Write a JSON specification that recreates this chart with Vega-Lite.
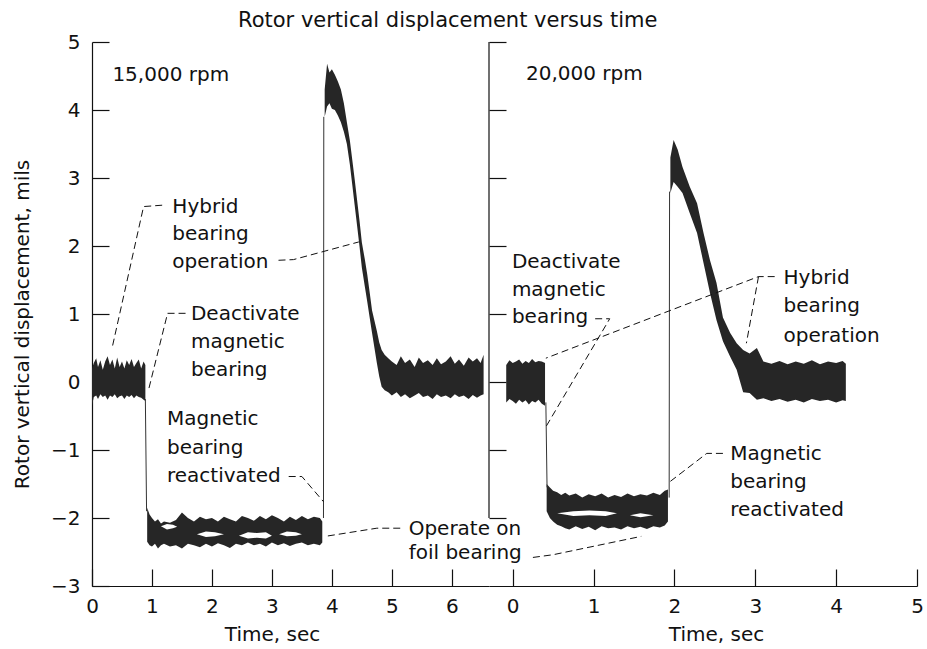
{
"$schema": "https://vega.github.io/schema/vega-lite/v6.json",
"padding": {"left": 12, "top": 10, "right": 0, "bottom": 0},
"bounds": "flush",
"title": {"text": "Rotor vertical displacement versus time", "fontSize": 21, "fontWeight": "normal", "color": "#111", "anchor": "start", "frame": "group", "dx": 146, "offset": 1},
"config": {"font": "DejaVu Sans", "view": {"stroke": null}, "axis": {"grid": false, "labelFlush": false, "domainColor": "#111", "tickColor": "#111", "labelColor": "#111", "titleColor": "#111", "labelFontSize": 20, "titleFontSize": 20, "titleFontWeight": "normal", "tickSize": -17, "domainWidth": 1.2, "tickWidth": 1.2}},
"spacing": 0,
"resolve": {"scale": {"x": "independent", "y": "independent"}},
"datasets": {
"L_band": [
{"seg":"a","t":0.0,"lo":-0.35,"y":0.2},{"seg":"a","t":0.03,"lo":-0.22,"y":0.28},{"seg":"a","t":0.07,"lo":-0.2,"y":0.35},{"seg":"a","t":0.1,"lo":-0.25,"y":0.22},{"seg":"a","t":0.14,"lo":-0.18,"y":0.32},{"seg":"a","t":0.18,"lo":-0.22,"y":0.18},{"seg":"a","t":0.22,"lo":-0.2,"y":0.3},{"seg":"a","t":0.26,"lo":-0.26,"y":0.38},{"seg":"a","t":0.3,"lo":-0.2,"y":0.25},{"seg":"a","t":0.34,"lo":-0.22,"y":0.33},{"seg":"a","t":0.38,"lo":-0.18,"y":0.2},{"seg":"a","t":0.42,"lo":-0.24,"y":0.36},{"seg":"a","t":0.46,"lo":-0.21,"y":0.22},{"seg":"a","t":0.5,"lo":-0.2,"y":0.3},{"seg":"a","t":0.54,"lo":-0.25,"y":0.2},{"seg":"a","t":0.58,"lo":-0.2,"y":0.32},{"seg":"a","t":0.62,"lo":-0.22,"y":0.25},{"seg":"a","t":0.66,"lo":-0.19,"y":0.34},{"seg":"a","t":0.7,"lo":-0.24,"y":0.22},{"seg":"a","t":0.74,"lo":-0.2,"y":0.28},{"seg":"a","t":0.78,"lo":-0.22,"y":0.33},{"seg":"a","t":0.82,"lo":-0.23,"y":0.2},{"seg":"a","t":0.86,"lo":-0.26,"y":0.3},{"seg":"a","t":0.89,"lo":-0.28,"y":0.25},
{"seg":"b","t":0.92,"lo":-2.35,"y":-1.85},{"seg":"b","t":0.96,"lo":-2.4,"y":-1.95},{"seg":"b","t":1.0,"lo":-2.42,"y":-2.0},{"seg":"b","t":1.05,"lo":-2.38,"y":-2.05},{"seg":"b","t":1.1,"lo":-2.45,"y":-2.02},{"seg":"b","t":1.15,"lo":-2.4,"y":-2.08},{"seg":"b","t":1.2,"lo":-2.38,"y":-2.05},{"seg":"b","t":1.3,"lo":-2.42,"y":-2.07},{"seg":"b","t":1.4,"lo":-2.4,"y":-2.03},{"seg":"b","t":1.5,"lo":-2.45,"y":-1.92},{"seg":"b","t":1.6,"lo":-2.38,"y":-2.0},{"seg":"b","t":1.7,"lo":-2.4,"y":-2.05},{"seg":"b","t":1.8,"lo":-2.43,"y":-1.98},{"seg":"b","t":1.9,"lo":-2.38,"y":-2.02},{"seg":"b","t":2.0,"lo":-2.42,"y":-2.0},{"seg":"b","t":2.1,"lo":-2.37,"y":-2.05},{"seg":"b","t":2.2,"lo":-2.4,"y":-1.98},{"seg":"b","t":2.3,"lo":-2.44,"y":-2.02},{"seg":"b","t":2.4,"lo":-2.38,"y":-2.05},{"seg":"b","t":2.5,"lo":-2.4,"y":-1.97},{"seg":"b","t":2.6,"lo":-2.36,"y":-2.0},{"seg":"b","t":2.7,"lo":-2.4,"y":-2.04},{"seg":"b","t":2.8,"lo":-2.38,"y":-1.97},{"seg":"b","t":2.9,"lo":-2.42,"y":-2.02},{"seg":"b","t":3.0,"lo":-2.36,"y":-1.96},{"seg":"b","t":3.1,"lo":-2.4,"y":-2.0},{"seg":"b","t":3.2,"lo":-2.37,"y":-2.05},{"seg":"b","t":3.3,"lo":-2.41,"y":-1.98},{"seg":"b","t":3.4,"lo":-2.38,"y":-2.03},{"seg":"b","t":3.5,"lo":-2.36,"y":-1.97},{"seg":"b","t":3.6,"lo":-2.4,"y":-2.02},{"seg":"b","t":3.7,"lo":-2.38,"y":-1.98},{"seg":"b","t":3.8,"lo":-2.4,"y":-2.0},{"seg":"b","t":3.84,"lo":-2.36,"y":-2.05},
{"seg":"c","t":3.88,"lo":3.9,"y":4.3},{"seg":"c","t":3.92,"lo":4.05,"y":4.68},{"seg":"c","t":3.96,"lo":4.1,"y":4.55},{"seg":"c","t":4.0,"lo":4.02,"y":4.6},{"seg":"c","t":4.05,"lo":4.0,"y":4.52},{"seg":"c","t":4.1,"lo":3.92,"y":4.42},{"seg":"c","t":4.15,"lo":3.82,"y":4.3},{"seg":"c","t":4.2,"lo":3.68,"y":4.1},{"seg":"c","t":4.25,"lo":3.5,"y":3.82},{"seg":"c","t":4.3,"lo":3.2,"y":3.55},{"seg":"c","t":4.34,"lo":2.9,"y":3.27},{"seg":"c","t":4.38,"lo":2.6,"y":2.98},{"seg":"c","t":4.42,"lo":2.3,"y":2.68},{"seg":"c","t":4.46,"lo":2.0,"y":2.38},{"seg":"c","t":4.5,"lo":1.68,"y":2.05},{"seg":"c","t":4.55,"lo":1.4,"y":1.8},{"seg":"c","t":4.59,"lo":1.18,"y":1.58},{"seg":"c","t":4.63,"lo":0.95,"y":1.32},{"seg":"c","t":4.67,"lo":0.72,"y":1.05},{"seg":"c","t":4.71,"lo":0.5,"y":0.9},{"seg":"c","t":4.75,"lo":0.28,"y":0.75},{"seg":"c","t":4.79,"lo":0.08,"y":0.58},{"seg":"c","t":4.83,"lo":-0.07,"y":0.47},{"seg":"c","t":4.88,"lo":-0.12,"y":0.4},{"seg":"c","t":4.94,"lo":-0.15,"y":0.35},{"seg":"c","t":5.0,"lo":-0.2,"y":0.3},{"seg":"c","t":5.08,"lo":-0.15,"y":0.25},{"seg":"c","t":5.15,"lo":-0.22,"y":0.38},{"seg":"c","t":5.22,"lo":-0.18,"y":0.28},{"seg":"c","t":5.3,"lo":-0.24,"y":0.33},{"seg":"c","t":5.38,"lo":-0.2,"y":0.22},{"seg":"c","t":5.45,"lo":-0.16,"y":0.36},{"seg":"c","t":5.52,"lo":-0.22,"y":0.28},{"seg":"c","t":5.6,"lo":-0.2,"y":0.32},{"seg":"c","t":5.68,"lo":-0.25,"y":0.25},{"seg":"c","t":5.75,"lo":-0.18,"y":0.35},{"seg":"c","t":5.82,"lo":-0.22,"y":0.26},{"seg":"c","t":5.9,"lo":-0.2,"y":0.3},{"seg":"c","t":5.98,"lo":-0.24,"y":0.38},{"seg":"c","t":6.05,"lo":-0.18,"y":0.27},{"seg":"c","t":6.12,"lo":-0.22,"y":0.33},{"seg":"c","t":6.2,"lo":-0.2,"y":0.24},{"seg":"c","t":6.28,"lo":-0.25,"y":0.36},{"seg":"c","t":6.35,"lo":-0.19,"y":0.3},{"seg":"c","t":6.42,"lo":-0.23,"y":0.35},{"seg":"c","t":6.48,"lo":-0.2,"y":0.28},{"seg":"c","t":6.53,"lo":-0.18,"y":0.4}
],
"L_hole": [
{"seg":"h1","t":1.15,"lo":-2.12,"y":-2.12},{"seg":"h1","t":1.25,"lo":-2.17,"y":-2.09},{"seg":"h1","t":1.35,"lo":-2.15,"y":-2.1},{"seg":"h1","t":1.42,"lo":-2.13,"y":-2.13},
{"seg":"h2","t":1.75,"lo":-2.24,"y":-2.24},{"seg":"h2","t":1.9,"lo":-2.28,"y":-2.2},{"seg":"h2","t":2.05,"lo":-2.27,"y":-2.21},{"seg":"h2","t":2.2,"lo":-2.24,"y":-2.24},
{"seg":"h3","t":2.45,"lo":-2.26,"y":-2.26},{"seg":"h3","t":2.6,"lo":-2.3,"y":-2.21},{"seg":"h3","t":2.75,"lo":-2.29,"y":-2.22},{"seg":"h3","t":2.9,"lo":-2.3,"y":-2.21},{"seg":"h3","t":3.0,"lo":-2.26,"y":-2.26},
{"seg":"h4","t":3.12,"lo":-2.24,"y":-2.24},{"seg":"h4","t":3.25,"lo":-2.27,"y":-2.2},{"seg":"h4","t":3.4,"lo":-2.26,"y":-2.21},{"seg":"h4","t":3.5,"lo":-2.24,"y":-2.24}
],
"L_jump": [
{"id":"j1","o":1,"t":0.89,"y":-0.25},{"id":"j1","o":2,"t":0.91,"y":-1.9},
{"id":"j2","o":1,"t":3.86,"y":-2.0},{"id":"j2","o":2,"t":3.865,"y":3.9}
],
"L_lead": [
{"id":"l1","o":1,"t":1.17,"y":2.6},{"id":"l1","o":2,"t":0.86,"y":2.58},{"id":"l1","o":3,"t":0.34,"y":0.52},
{"id":"l2","o":1,"t":3.11,"y":1.79},{"id":"l2","o":2,"t":3.36,"y":1.8},{"id":"l2","o":3,"t":4.45,"y":2.06},
{"id":"l3","o":1,"t":1.56,"y":1.01},{"id":"l3","o":2,"t":1.26,"y":1.01},{"id":"l3","o":3,"t":0.95,"y":-0.09},
{"id":"l4","o":1,"t":3.28,"y":-1.39},{"id":"l4","o":2,"t":3.5,"y":-1.39},{"id":"l4","o":3,"t":3.86,"y":-1.76},
{"id":"l5","o":1,"t":5.14,"y":-2.15},{"id":"l5","o":2,"t":4.75,"y":-2.15},{"id":"l5","o":3,"t":3.89,"y":-2.27}
],
"L_text": [
{"t":0.34,"y":4.52,"label":"15,000 rpm"},
{"t":1.34,"y":2.58,"label":"Hybrid"},{"t":1.34,"y":2.18,"label":"bearing"},{"t":1.34,"y":1.76,"label":"operation"},
{"t":1.65,"y":1.0,"label":"Deactivate"},{"t":1.65,"y":0.59,"label":"magnetic"},{"t":1.65,"y":0.17,"label":"bearing"},
{"t":1.25,"y":-0.54,"label":"Magnetic"},{"t":1.25,"y":-0.97,"label":"bearing"},{"t":1.25,"y":-1.38,"label":"reactivated"},
{"t":5.28,"y":-2.16,"label":"Operate on"},{"t":5.28,"y":-2.52,"label":"foil bearing"}
],
"R_rule": [{"t":-0.293,"y":-2,"ytop":5}],
"R_band": [
{"seg":"a","t":-0.08,"lo":-0.3,"y":0.25},{"seg":"a","t":-0.04,"lo":-0.25,"y":0.32},{"seg":"a","t":0.0,"lo":-0.28,"y":0.28},{"seg":"a","t":0.04,"lo":-0.32,"y":0.3},{"seg":"a","t":0.08,"lo":-0.26,"y":0.33},{"seg":"a","t":0.12,"lo":-0.3,"y":0.27},{"seg":"a","t":0.16,"lo":-0.27,"y":0.31},{"seg":"a","t":0.2,"lo":-0.33,"y":0.28},{"seg":"a","t":0.24,"lo":-0.28,"y":0.34},{"seg":"a","t":0.28,"lo":-0.3,"y":0.29},{"seg":"a","t":0.32,"lo":-0.26,"y":0.31},{"seg":"a","t":0.36,"lo":-0.32,"y":0.3},{"seg":"a","t":0.4,"lo":-0.35,"y":0.28},
{"seg":"b","t":0.42,"lo":-1.9,"y":-1.5},{"seg":"b","t":0.46,"lo":-2.0,"y":-1.55},{"seg":"b","t":0.5,"lo":-2.05,"y":-1.6},{"seg":"b","t":0.55,"lo":-2.1,"y":-1.62},{"seg":"b","t":0.6,"lo":-2.12,"y":-1.66},{"seg":"b","t":0.65,"lo":-2.15,"y":-1.63},{"seg":"b","t":0.7,"lo":-2.17,"y":-1.67},{"seg":"b","t":0.78,"lo":-2.12,"y":-1.64},{"seg":"b","t":0.86,"lo":-2.16,"y":-1.7},{"seg":"b","t":0.94,"lo":-2.13,"y":-1.65},{"seg":"b","t":1.02,"lo":-2.18,"y":-1.68},{"seg":"b","t":1.1,"lo":-2.12,"y":-1.64},{"seg":"b","t":1.18,"lo":-2.15,"y":-1.7},{"seg":"b","t":1.26,"lo":-2.14,"y":-1.66},{"seg":"b","t":1.34,"lo":-2.17,"y":-1.69},{"seg":"b","t":1.42,"lo":-2.12,"y":-1.64},{"seg":"b","t":1.5,"lo":-2.15,"y":-1.68},{"seg":"b","t":1.58,"lo":-2.13,"y":-1.65},{"seg":"b","t":1.66,"lo":-2.16,"y":-1.67},{"seg":"b","t":1.74,"lo":-2.12,"y":-1.63},{"seg":"b","t":1.82,"lo":-2.14,"y":-1.66},{"seg":"b","t":1.88,"lo":-2.11,"y":-1.6},{"seg":"b","t":1.92,"lo":-2.05,"y":-1.58},
{"seg":"c","t":1.95,"lo":2.78,"y":3.3},{"seg":"c","t":1.99,"lo":2.94,"y":3.56},{"seg":"c","t":2.04,"lo":2.87,"y":3.42},{"seg":"c","t":2.1,"lo":2.78,"y":3.16},{"seg":"c","t":2.19,"lo":2.48,"y":2.87},{"seg":"c","t":2.28,"lo":2.19,"y":2.63},{"seg":"c","t":2.36,"lo":1.75,"y":2.19},{"seg":"c","t":2.44,"lo":1.31,"y":1.79},{"seg":"c","t":2.52,"lo":0.91,"y":1.46},{"seg":"c","t":2.6,"lo":0.6,"y":0.95},{"seg":"c","t":2.69,"lo":0.37,"y":0.72},{"seg":"c","t":2.77,"lo":0.18,"y":0.57},{"seg":"c","t":2.85,"lo":-0.15,"y":0.47},{"seg":"c","t":2.93,"lo":-0.16,"y":0.42},{"seg":"c","t":3.02,"lo":-0.26,"y":0.5},{"seg":"c","t":3.1,"lo":-0.24,"y":0.3},{"seg":"c","t":3.2,"lo":-0.28,"y":0.27},{"seg":"c","t":3.3,"lo":-0.25,"y":0.31},{"seg":"c","t":3.4,"lo":-0.29,"y":0.26},{"seg":"c","t":3.5,"lo":-0.26,"y":0.3},{"seg":"c","t":3.6,"lo":-0.3,"y":0.27},{"seg":"c","t":3.7,"lo":-0.25,"y":0.32},{"seg":"c","t":3.8,"lo":-0.28,"y":0.26},{"seg":"c","t":3.9,"lo":-0.26,"y":0.3},{"seg":"c","t":4.0,"lo":-0.3,"y":0.28},{"seg":"c","t":4.08,"lo":-0.27,"y":0.31},{"seg":"c","t":4.12,"lo":-0.28,"y":0.27}
],
"R_hole": [
{"seg":"h1","t":0.55,"lo":-1.93,"y":-1.93},{"seg":"h1","t":0.75,"lo":-1.97,"y":-1.9},{"seg":"h1","t":0.95,"lo":-1.96,"y":-1.89},{"seg":"h1","t":1.15,"lo":-1.97,"y":-1.9},{"seg":"h1","t":1.29,"lo":-1.93,"y":-1.93},
{"seg":"h2","t":1.45,"lo":-1.96,"y":-1.96},{"seg":"h2","t":1.58,"lo":-1.99,"y":-1.93},{"seg":"h2","t":1.74,"lo":-1.96,"y":-1.96}
],
"R_jump": [
{"id":"j3","o":1,"t":0.41,"y":-0.3},{"id":"j3","o":2,"t":0.425,"y":-1.55},
{"id":"j4","o":1,"t":1.935,"y":-1.7},{"id":"j4","o":2,"t":1.94,"y":2.8}
],
"R_lead": [
{"id":"r1","o":1,"t":1.02,"y":0.93},{"id":"r1","o":2,"t":1.2,"y":0.93},{"id":"r1","o":3,"t":0.41,"y":-0.66},
{"id":"r2","o":1,"t":3.24,"y":1.55},{"id":"r2","o":2,"t":3.04,"y":1.55},{"id":"r2","o":3,"t":0.41,"y":0.35},
{"id":"r3","o":1,"t":3.04,"y":1.55},{"id":"r3","o":2,"t":2.89,"y":0.57},
{"id":"r4","o":1,"t":2.6,"y":-1.05},{"id":"r4","o":2,"t":2.4,"y":-1.05},{"id":"r4","o":3,"t":1.94,"y":-1.47},
{"id":"r5","o":1,"t":0.25,"y":-2.58},{"id":"r5","o":2,"t":0.5,"y":-2.54},{"id":"r5","o":3,"t":1.59,"y":-2.27}
],
"R_text": [
{"t":0.165,"y":4.53,"label":"20,000 rpm"},
{"t":-0.01,"y":1.76,"label":"Deactivate"},{"t":-0.01,"y":1.35,"label":"magnetic"},{"t":-0.01,"y":0.95,"label":"bearing"},
{"t":3.35,"y":1.53,"label":"Hybrid"},{"t":3.35,"y":1.12,"label":"bearing"},{"t":3.35,"y":0.68,"label":"operation"},
{"t":2.69,"y":-1.06,"label":"Magnetic"},{"t":2.69,"y":-1.47,"label":"bearing"},{"t":2.69,"y":-1.88,"label":"reactivated"}
]
},
"hconcat": [
{
"width": 397, "height": 544,
"encoding": {
"x": {"field": "t", "type": "quantitative", "scale": {"domain": [0, 6.62], "nice": false, "zero": false}, "axis": {"values": [0,1,2,3,4,5,6], "title": "Time, sec", "titleX": 180, "labelPadding": 27, "titlePadding": 8}},
"y": {"field": "y", "type": "quantitative", "scale": {"domain": [-3, 5], "nice": false, "zero": false}, "axis": {"values": [-3,-2,-1,0,1,2,3,4,5], "title": "Rotor vertical displacement, mils", "labelPadding": 29, "titlePadding": 18, "titleY": 282}}
},
"layer": [
{"data": {"name": "L_band"}, "mark": {"type": "area", "color": "#262626", "opacity": 1}, "encoding": {"y2": {"field": "lo"}, "detail": {"field": "seg"}}},
{"data": {"name": "L_hole"}, "mark": {"type": "area", "color": "#ffffff", "opacity": 1}, "encoding": {"y2": {"field": "lo"}, "detail": {"field": "seg"}}},
{"data": {"name": "L_jump"}, "mark": {"type": "line", "color": "#333", "strokeWidth": 1}, "encoding": {"detail": {"field": "id"}, "order": {"field": "o"}}},
{"data": {"name": "L_lead"}, "mark": {"type": "line", "color": "#111", "strokeWidth": 1, "strokeDash": [7, 4]}, "encoding": {"detail": {"field": "id"}, "order": {"field": "o"}}},
{"data": {"name": "L_text"}, "mark": {"type": "text", "align": "left", "baseline": "middle", "fontSize": 20, "color": "#111"}, "encoding": {"text": {"field": "label"}}}
]
},
{
"width": 428, "height": 544,
"encoding": {
"x": {"field": "t", "type": "quantitative", "scale": {"domain": [-0.293, 5], "nice": false, "zero": false}, "axis": {"values": [0,1,2,3,4,5], "title": "Time, sec", "titleX": 227, "labelPadding": 27, "titlePadding": 8}},
"y": {"field": "y", "type": "quantitative", "scale": {"domain": [-3, 5], "nice": false, "zero": false}, "axis": {"values": [-2,-1,0,1,2,3,4,5], "title": null, "labels": false, "domain": false}}
},
"layer": [
{"data": {"name": "R_rule"}, "mark": {"type": "rule", "color": "#111", "strokeWidth": 1.2}, "encoding": {"y2": {"field": "ytop"}}},
{"data": {"name": "R_band"}, "mark": {"type": "area", "color": "#262626", "opacity": 1}, "encoding": {"y2": {"field": "lo"}, "detail": {"field": "seg"}}},
{"data": {"name": "R_hole"}, "mark": {"type": "area", "color": "#ffffff", "opacity": 1}, "encoding": {"y2": {"field": "lo"}, "detail": {"field": "seg"}}},
{"data": {"name": "R_jump"}, "mark": {"type": "line", "color": "#333", "strokeWidth": 1}, "encoding": {"detail": {"field": "id"}, "order": {"field": "o"}}},
{"data": {"name": "R_lead"}, "mark": {"type": "line", "color": "#111", "strokeWidth": 1, "strokeDash": [7, 4]}, "encoding": {"detail": {"field": "id"}, "order": {"field": "o"}}},
{"data": {"name": "R_text"}, "mark": {"type": "text", "align": "left", "baseline": "middle", "fontSize": 20, "color": "#111"}, "encoding": {"text": {"field": "label"}}}
]
}
]
}
